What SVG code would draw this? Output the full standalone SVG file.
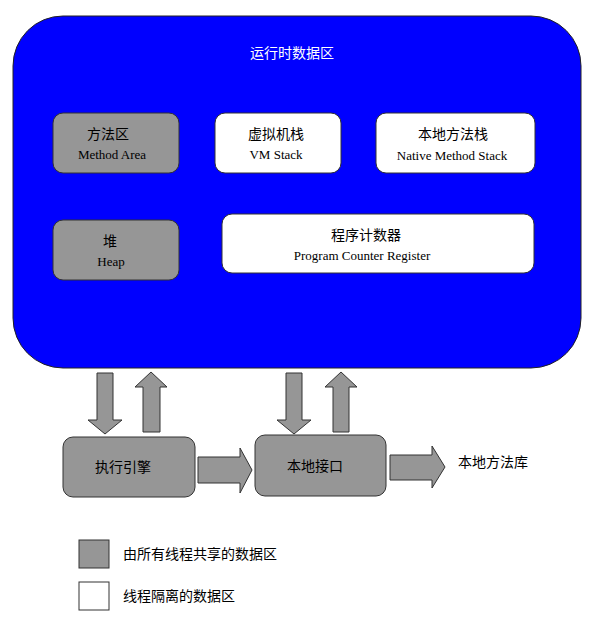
<svg xmlns="http://www.w3.org/2000/svg" width="606" height="626" viewBox="0 0 606 626">
<style>
.g{fill:#969696;stroke:#333;stroke-width:1}
.w{fill:#fff;stroke:#333;stroke-width:1}
.a{fill:#969696;stroke:#333;stroke-width:1}
.cn{font-family:"Noto Sans CJK SC",sans-serif;font-size:14px;fill:#000}
.en{font-family:"Liberation Serif",serif;font-size:13px;fill:#000}
</style>
<rect width="606" height="626" fill="#fff"/>
<g id="runtime"><rect x="13" y="16" width="568" height="352" rx="50" fill="#0000ff" stroke="#222"/>
<text class="cn" x="292" y="58" text-anchor="middle" fill="#fff" style="fill:#fff">运行时数据区</text></g>
<g id="method"><rect class="g" x="53" y="113" width="126" height="60" rx="10"/><text class="cn" x="108" y="139" text-anchor="middle">方法区</text><text class="en" x="112" y="159" text-anchor="middle">Method Area</text></g>
<g id="vmstack"><rect class="w" x="215" y="113" width="126" height="60" rx="10"/><text class="cn" x="276" y="139" text-anchor="middle">虚拟机栈</text><text class="en" x="276" y="159" text-anchor="middle">VM Stack</text></g>
<g id="native"><rect class="w" x="376" y="113" width="159" height="60" rx="10"/><text class="cn" x="453" y="139" text-anchor="middle">本地方法栈</text><text class="en" x="452" y="160" text-anchor="middle">Native Method Stack</text></g>
<g id="heap"><rect class="g" x="53" y="220" width="126" height="60" rx="10"/><text class="cn" x="110" y="246" text-anchor="middle">堆</text><text class="en" x="111" y="266" text-anchor="middle">Heap</text></g>
<g id="pcr"><rect class="w" x="222" y="214" width="312" height="59" rx="10"/><text class="cn" x="366" y="240" text-anchor="middle">程序计数器</text><text class="en" x="362" y="260" text-anchor="middle">Program Counter Register</text></g>
<g id="engine"><rect class="g" x="63" y="437" width="132" height="60" rx="10"/><text class="cn" x="123" y="472" text-anchor="middle">执行引擎</text></g>
<g id="iface"><rect class="g" x="255" y="435" width="131" height="61" rx="10"/><text class="cn" x="315" y="471" text-anchor="middle">本地接口</text></g>
<g id="lib"><text class="cn" x="458" y="467">本地方法库</text></g>
<g id="connectors">
<polygon class="a" points="97,373 113,373 113,420 122,420 105,434 88,420 97,420"/>
<polygon class="a" points="151,372 167,387 160,387 160,432 143,432 143,387 135,387"/>
<polygon class="a" points="286,373 302,373 302,420 311,420 294,434 277,420 286,420"/>
<polygon class="a" points="341,372 357,387 349,387 349,432 333,432 333,387 325,387"/>
<polygon class="a" points="198,457 240,457 240,448 252,470 240,493 240,483 198,483"/>
<polygon class="a" points="390,455 432,455 432,446 445,467 432,488 432,480 390,480"/>
</g>
<g id="legend">
<rect class="g" x="79" y="540" width="30" height="28"/><text class="cn" x="123" y="559">由所有线程共享的数据区</text>
<rect class="w" x="79" y="582" width="30" height="28"/><text class="cn" x="123" y="601">线程隔离的数据区</text>
</g>
</svg>
